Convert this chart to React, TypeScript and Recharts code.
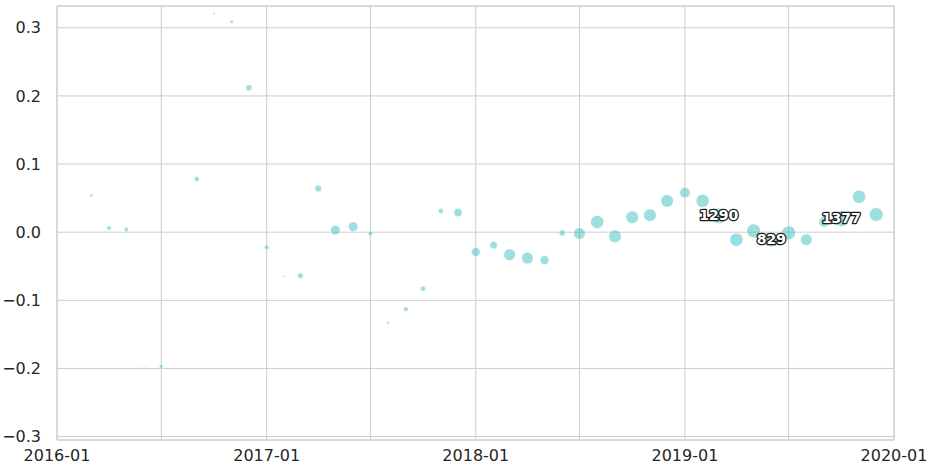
import { ScatterChart, Scatter, XAxis, YAxis, ZAxis, CartesianGrid, ReferenceLine, LabelList } from 'recharts'

// monthly observations (first of month)
const months = [
  '2016-03', '2016-04', '2016-05', '2016-06', '2016-07', '2016-09', '2016-10', '2016-11', '2016-12',
  '2017-01', '2017-02', '2017-03', '2017-04', '2017-05', '2017-06', '2017-07', '2017-08', '2017-09',
  '2017-10', '2017-11', '2017-12', '2018-01', '2018-02', '2018-03', '2018-04', '2018-05', '2018-06',
  '2018-07', '2018-08', '2018-09', '2018-10', '2018-11', '2018-12', '2019-01', '2019-02', '2019-03',
  '2019-04', '2019-05', '2019-06', '2019-07', '2019-08', '2019-09', '2019-10', '2019-11', '2019-12',
]

const values = [
  0.054, 0.006, 0.004, -0.198, -0.197, 0.078, 0.321, 0.309, 0.212,
  -0.022, -0.065, -0.064, 0.064, 0.003, 0.008, -0.002, -0.133, -0.113,
  -0.083, 0.031, 0.029, -0.029, -0.019, -0.033, -0.038, -0.041, -0.001,
  -0.002, 0.015, -0.006, 0.022, 0.025, 0.046, 0.058, 0.046, 0.024,
  -0.011, 0.002, -0.012, -0.001, -0.011, 0.015, 0.02, 0.052, 0.026,
]

const counts = [
  45, 106, 106, 13, 76, 140, 26, 59, 192,
  106, 26, 165, 238, 488, 488, 106, 45, 106,
  140, 140, 361, 422, 287, 742, 742, 422, 192,
  742, 950, 858, 858, 858, 858, 583, 950, 1290,
  950, 1048, 829, 1048, 742, 583, 1377, 950, 1048,
]

const labelled = ['2019-03', '2019-06', '2019-10']

const xTicks = ['2016-01', '2016-07', '2017-01', '2017-07', '2018-01', '2018-07', '2019-01', '2019-07', '2020-01']
const yTicks = [-0.3, -0.2, -0.1, 0, 0.1, 0.2, 0.3]

const toTs = (m: string) => {
  const [y, mo] = m.split('-').map(Number)
  return Date.UTC(y, mo - 1, 1)
}

const data = months.map((m, i) => ({
  t: toTs(m),
  v: values[i],
  n: counts[i],
  lbl: labelled.includes(m) ? String(counts[i]) : '',
}))

const xMin = toTs('2016-01')
const xMax = toTs('2020-01')
const yMin = -0.305
const yMax = 0.332

const font = 'DejaVu Sans, sans-serif'

const fmtX = (t: number) => {
  const d = new Date(t)
  if (d.getUTCMonth() !== 0) return ''
  return `${d.getUTCFullYear()}-01`
}

const fmtY = (v: number) => v.toFixed(1).replace('-', '\u2212')

const CountLabel = (props: any) => {
  const { x, y, width, height, value } = props
  if (!value) return null
  const cx = x + width / 2
  const cy = y + height / 2
  return (
    <text
      x={cx}
      y={cy - 1}
      textAnchor="middle"
      dominantBaseline="central"
      fontFamily={font}
      fontWeight="bold"
      fontSize={14}
      fill="#ffffff"
      stroke="#1a1a1a"
      strokeWidth={2.6}
      paintOrder="stroke"
      strokeLinejoin="round"
    >
      {value}
    </text>
  )
}

export default function App() {
  return (
    <div style={{ position: 'absolute', left: 0, top: 0, background: '#fff' }}>
      <ScatterChart width={935} height={476} margin={{ top: 6, right: 41, bottom: 0, left: 0 }}>
        <CartesianGrid stroke="#cccccc" strokeWidth={1} />
        <XAxis
          dataKey="t"
          type="number"
          domain={[xMin, xMax]}
          ticks={xTicks.map(toTs)}
          tickFormatter={fmtX}
          tickLine={false}
          axisLine={{ stroke: '#cccccc' }}
          height={36}
          interval={0}
          tick={{ fill: '#262626', fontSize: 16, fontFamily: font }}
          tickMargin={4}
          allowDataOverflow
        />
        <YAxis
          dataKey="v"
          type="number"
          domain={[yMin, yMax]}
          ticks={yTicks}
          tickFormatter={fmtY}
          tickLine={false}
          axisLine={{ stroke: '#cccccc' }}
          width={57}
          interval={0}
          tick={{ fill: '#262626', fontSize: 16, fontFamily: font }}
          tickMargin={10}
          allowDataOverflow
        />
        <ZAxis dataKey="n" type="number" domain={[0, 1400]} range={[0, 195]} />
        <ReferenceLine y={yMax} stroke="#cccccc" />
        <ReferenceLine x={xMax} stroke="#cccccc" />
        <Scatter
          data={data}
          fill="#4cc2c2"
          fillOpacity={0.55}
          stroke="#ffffff"
          strokeOpacity={0.5}
          strokeWidth={0.6}
          isAnimationActive={false}
        >
          <LabelList dataKey="lbl" content={<CountLabel />} />
        </Scatter>
      </ScatterChart>
    </div>
  )
}
